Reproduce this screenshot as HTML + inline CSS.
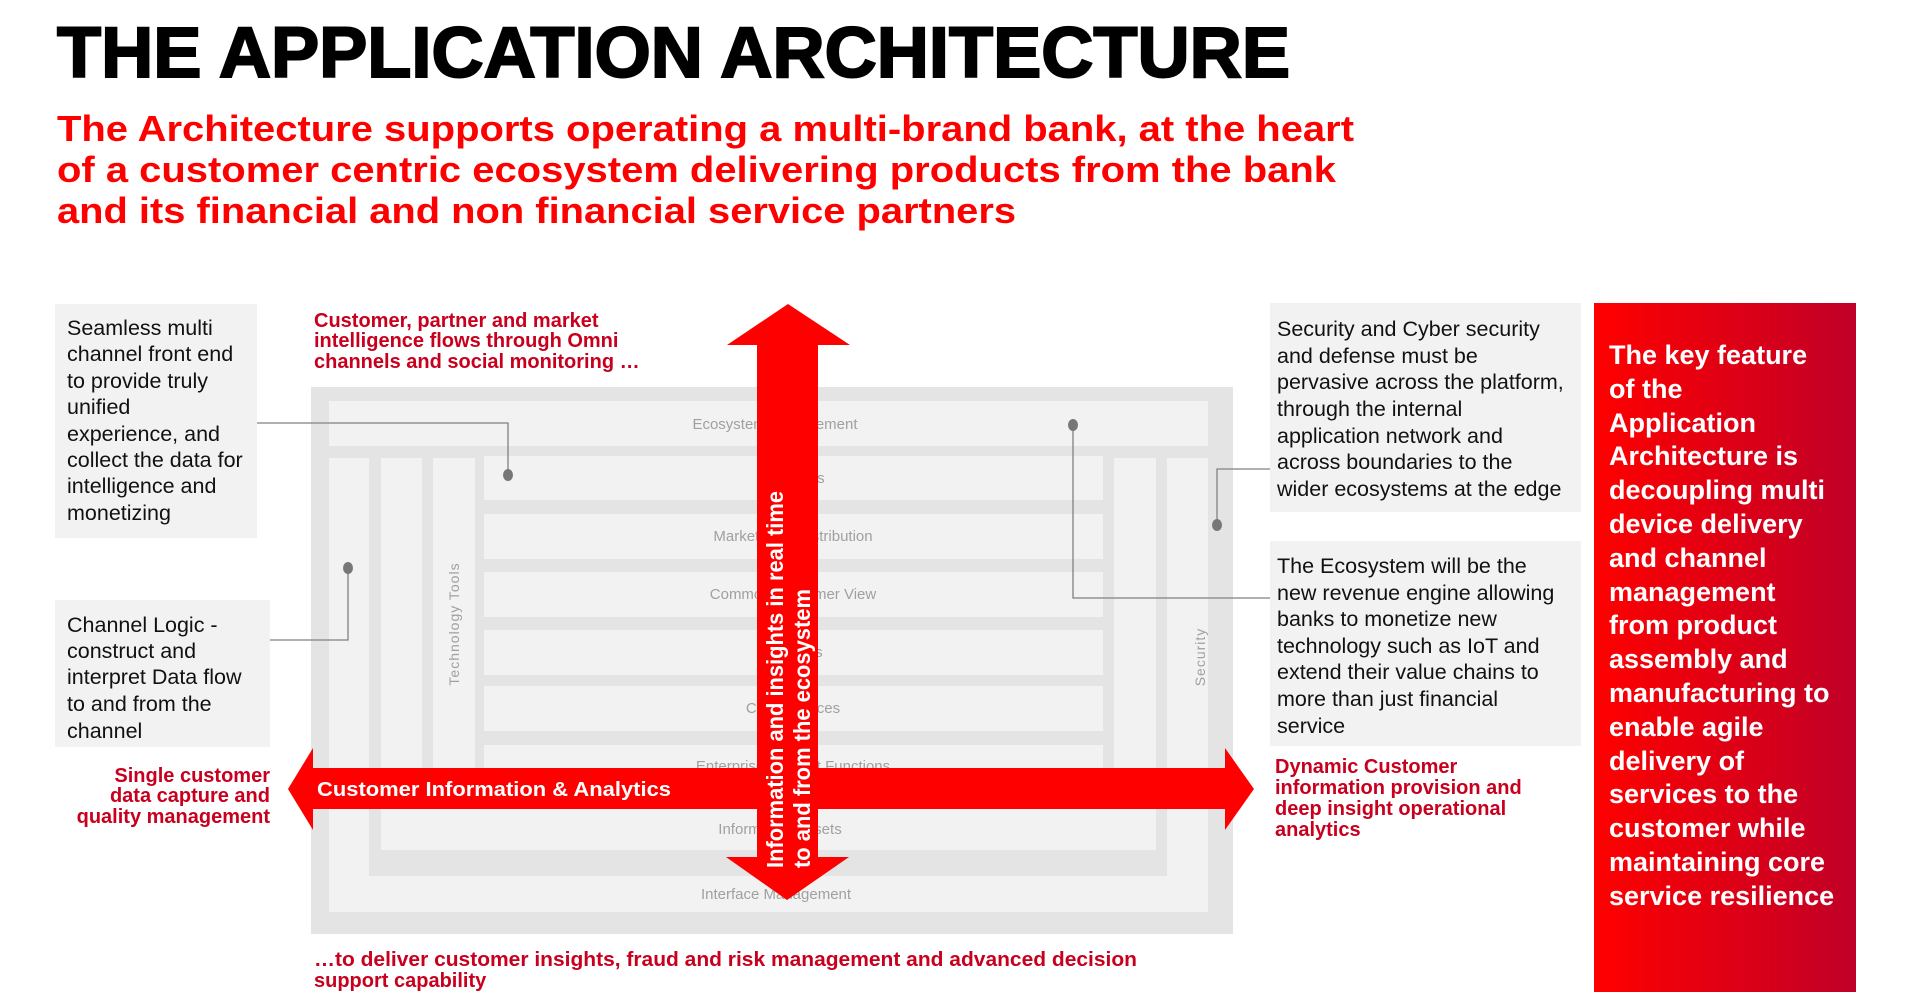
<!DOCTYPE html>
<html><head><meta charset="utf-8"><style>
html,body{margin:0;padding:0;background:#fff;}
svg{display:block;font-family:"Liberation Sans",Arial,sans-serif;}
</style></head><body>
<svg width="1911" height="1002" viewBox="0 0 1911 1002" xmlns="http://www.w3.org/2000/svg">
<defs>
<linearGradient id="rg" x1="0" x2="1" y1="0" y2="0"><stop offset="0" stop-color="#ff0000"/><stop offset="1" stop-color="#c00028"/></linearGradient>
</defs>
<!-- title -->
<text x="57" y="77" font-size="71" font-weight="bold" fill="#000" stroke="#000" stroke-width="2" textLength="1233" lengthAdjust="spacingAndGlyphs">THE APPLICATION ARCHITECTURE</text>
<g font-size="36" font-weight="bold" fill="#ff0000">
<text x="57" y="141" textLength="1297" lengthAdjust="spacingAndGlyphs">The Architecture supports operating a multi-brand bank, at the heart</text>
<text x="57" y="182" textLength="1279" lengthAdjust="spacingAndGlyphs">of a customer centric ecosystem delivering products from the bank</text>
<text x="57" y="223" textLength="959" lengthAdjust="spacingAndGlyphs">and its financial and non financial service partners</text>
</g>

<!-- diagram -->
<rect x="311" y="387" width="922" height="547" fill="#e4e4e4"/>
<g fill="#f2f2f2">
<rect x="329" y="401" width="879" height="45"/>
<rect x="329" y="458" width="40" height="454"/>
<rect x="329" y="876" width="879" height="36"/>
<rect x="1167" y="458" width="41" height="454"/>
<rect x="381" y="458" width="41" height="392"/>
<rect x="381" y="809" width="775" height="41"/>
<rect x="1114" y="458" width="42" height="392"/>
<rect x="433" y="458" width="42" height="339"/>
<rect x="484" y="456" width="619" height="44"/>
<rect x="484" y="514" width="619" height="45"/>
<rect x="484" y="572" width="619" height="45"/>
<rect x="484" y="630" width="619" height="45"/>
<rect x="484" y="686" width="619" height="45"/>
<rect x="484" y="745" width="619" height="50"/>
</g>
<g font-family="'Liberation Sans Narrow','Liberation Sans',sans-serif" font-size="15" fill="#a0a0a0" text-anchor="middle">
<text x="775" y="429">Ecosystem Management</text>
<text x="793" y="483">Channels</text>
<text x="793" y="541">Marketing &amp; Distribution</text>
<text x="793" y="599">Common Customer View</text>
<text x="793" y="657">Products</text>
<text x="793" y="713">Core Services</text>
<text x="793" y="771">Enterprise Support Functions</text>
<text x="780" y="834">Information Assets</text>
<text x="776" y="899">Interface Management</text>
<text transform="translate(459,624) rotate(-90)" font-family="'Liberation Sans',sans-serif" font-size="14" letter-spacing="1">Technology Tools</text>
<text transform="translate(1205,657) rotate(-90)" font-family="'Liberation Sans',sans-serif" font-size="14" letter-spacing="1">Security</text>
</g>

<!-- connectors -->
<g stroke="#808080" stroke-width="1.3" fill="none">
<polyline points="257,423 508,423 508,475"/>
<polyline points="270,640 348,640 348,568"/>
<polyline points="1073,425 1073,598 1270,598"/>
<polyline points="1217,525 1217,469 1270,469"/>
</g>
<g fill="#777">
<ellipse cx="508" cy="475" rx="5" ry="6"/>
<ellipse cx="348" cy="568" rx="5" ry="6"/>
<ellipse cx="1073" cy="425" rx="5" ry="6"/>
<ellipse cx="1217" cy="525" rx="5" ry="6"/>
</g>

<!-- horizontal arrow -->
<polygon fill="#ff0000" points="288,789 313,748 313,768 1225,768 1225,748 1254,789 1225,830 1225,809 313,809 313,830"/>
<text x="317" y="796" font-size="20" font-weight="bold" fill="#fff" textLength="354" lengthAdjust="spacingAndGlyphs">Customer Information &amp; Analytics</text>
<!-- vertical arrow -->
<polygon fill="#ff0000" points="788,304 850,345 818,345 818,857 849,857 787,900 726,857 757,857 757,345 727,345"/>
<g font-size="23" font-weight="bold" fill="#fff">
<text transform="translate(783,868) rotate(-90)" textLength="377" lengthAdjust="spacingAndGlyphs">Information and insights in real time</text>
<text transform="translate(810,868) rotate(-90)" textLength="279" lengthAdjust="spacingAndGlyphs">to and from the ecosystem</text>
</g>

<!-- left boxes -->
<rect x="55" y="304" width="202" height="234" fill="#f2f2f2"/>
<rect x="55" y="600" width="215" height="147" fill="#f2f2f2"/>
<g font-size="21.5" fill="#111">
<text x="67" y="335">Seamless multi</text>
<text x="67" y="361">channel front end</text>
<text x="67" y="388">to provide truly</text>
<text x="67" y="414">unified</text>
<text x="67" y="441">experience, and</text>
<text x="67" y="467">collect the data for</text>
<text x="67" y="493">intelligence and</text>
<text x="67" y="520">monetizing</text>
<text x="67" y="632">Channel Logic -</text>
<text x="67" y="658">construct and</text>
<text x="67" y="684">interpret Data flow</text>
<text x="67" y="711">to and from the</text>
<text x="67" y="738">channel</text>
</g>

<!-- red labels -->
<g font-size="20" font-weight="bold" fill="#c8001e">
<text x="314" y="327">Customer, partner and market</text>
<text x="314" y="347">intelligence flows through Omni</text>
<text x="314" y="368">channels and social monitoring …</text>
<text x="314" y="966" textLength="823" lengthAdjust="spacingAndGlyphs">…to deliver customer insights, fraud and risk management and advanced decision</text>
<text x="314" y="987">support capability</text>
<g text-anchor="end">
<text x="270" y="782">Single customer</text>
<text x="270" y="802">data capture and</text>
<text x="270" y="823">quality management</text>
</g>
<text x="1275" y="773">Dynamic Customer</text>
<text x="1275" y="794">information provision and</text>
<text x="1275" y="815">deep insight operational</text>
<text x="1275" y="836">analytics</text>
</g>

<!-- right boxes -->
<rect x="1270" y="303" width="311" height="209" fill="#f2f2f2"/>
<rect x="1270" y="541" width="311" height="205" fill="#f2f2f2"/>
<g font-size="21.5" fill="#111">
<text x="1277" y="336">Security and Cyber security</text>
<text x="1277" y="363">and defense must be</text>
<text x="1277" y="389">pervasive across the platform,</text>
<text x="1277" y="416">through the internal</text>
<text x="1277" y="443">application network and</text>
<text x="1277" y="469">across boundaries to the</text>
<text x="1277" y="496">wider ecosystems at the edge</text>
<text x="1277" y="573">The Ecosystem will be the</text>
<text x="1277" y="600">new revenue engine allowing</text>
<text x="1277" y="626">banks to monetize new</text>
<text x="1277" y="653">technology such as IoT and</text>
<text x="1277" y="679">extend their value chains to</text>
<text x="1277" y="706">more than just financial</text>
<text x="1277" y="733">service</text>
</g>

<!-- red panel -->
<rect x="1594" y="303" width="262" height="689" fill="url(#rg)"/>
<g font-size="27" font-weight="bold" fill="#fff">
<text x="1609" y="364">The key feature</text>
<text x="1609" y="398">of the</text>
<text x="1609" y="432">Application</text>
<text x="1609" y="465">Architecture is</text>
<text x="1609" y="499">decoupling multi</text>
<text x="1609" y="533">device delivery</text>
<text x="1609" y="567">and channel</text>
<text x="1609" y="601">management</text>
<text x="1609" y="634">from product</text>
<text x="1609" y="668">assembly and</text>
<text x="1609" y="702">manufacturing to</text>
<text x="1609" y="736">enable agile</text>
<text x="1609" y="770">delivery of</text>
<text x="1609" y="803">services to the</text>
<text x="1609" y="837">customer while</text>
<text x="1609" y="871">maintaining core</text>
<text x="1609" y="905">service resilience</text>
</g>
</svg>
</body></html>
